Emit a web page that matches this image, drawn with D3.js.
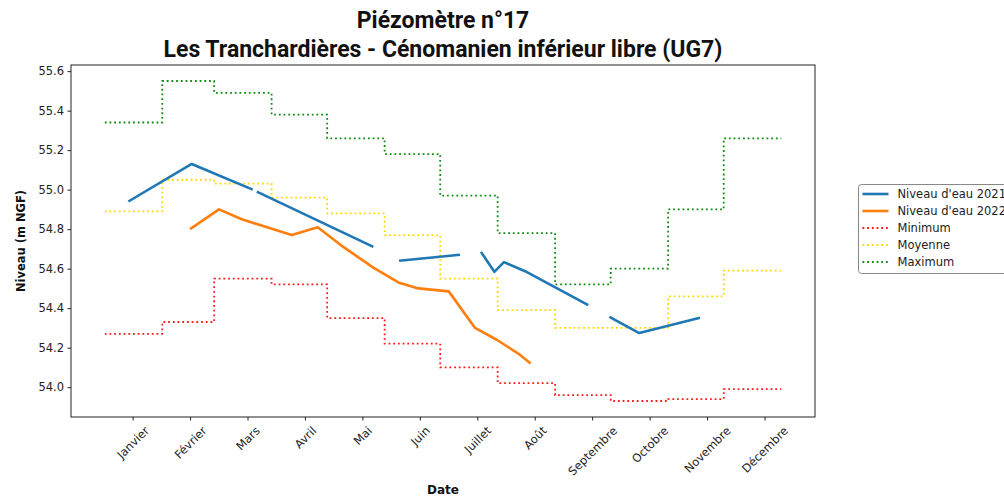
<!DOCTYPE html>
<html>
<head>
<meta charset="utf-8">
<script src="https://cdn.jsdelivr.net/npm/d3@7"></script>
<style>
  body { margin: 0; background: #fff; }
  svg { display: block; }
</style>
</head>
<body>
<div id="chart"></div>
<script>
// months (tick labels) and tick positions, in day of year
var months = ["Janvier", "Février", "Mars", "Avril", "Mai", "Juin", "Juillet",
    "Août", "Septembre", "Octobre", "Novembre", "Décembre"];
var tickDays = [15, 46, 77, 108, 139, 170, 201, 232, 263, 294, 325, 356];

// monthly statistics, one value per month (step from 1st of month)
var monthStarts = [0, 31, 59, 90, 120, 151, 181, 212, 243, 273, 304, 334];
var yearEnd = 365;
var minimum = [54.27, 54.33, 54.55, 54.52, 54.35, 54.22, 54.10, 54.02, 53.96, 53.93, 53.94, 53.99];
var moyenne = [54.89, 55.05, 55.03, 54.96, 54.88, 54.77, 54.55, 54.39, 54.30, 54.30, 54.46, 54.59];
var maximum = [55.34, 55.55, 55.49, 55.38, 55.26, 55.18, 54.97, 54.78, 54.52, 54.60, 54.90, 55.26];

// measured levels [day, level], null = missing measurement
var niveau2021 = [[12.7, 54.94], [46.9, 55.13], [79.8, 55.00], null,
    [82, 54.99], [144.9, 54.71], null,
    [158.8, 54.64], [191.7, 54.67], null,
    [203, 54.685], [210.2, 54.584], [215.4, 54.633], [226.8, 54.587], [260.9, 54.415], null,
    [272.3, 54.356], [288.4, 54.274], [321.2, 54.351]];
var niveau2022 = [[46, 54.80], [61.6, 54.90], [73.9, 54.85], [100.9, 54.77], [114.9, 54.81],
    [128.7, 54.71], [144.9, 54.605], [158.4, 54.53], [169.2, 54.50], [185.6, 54.485],
    [199.8, 54.30], [211.5, 54.24], [223.1, 54.17], [229.8, 54.12]];

var yTicks = [54.0, 54.2, 54.4, 54.6, 54.8, 55.0, 55.2, 55.4, 55.6];

var W = 1004, H = 499;
var margin = {top: 65, right: 189, bottom: 82, left: 71};

var svg = d3.select("#chart").append("svg")
    .attr("width", W)
    .attr("height", H);

svg.append("rect").attr("width", W).attr("height", H).attr("fill", "#fff");

// matplotlib style 5% padding around the data
function padded(lo, hi) {
    var p = (hi - lo) * 0.05;
    return [lo - p, hi + p];
}
var allVals = minimum.concat(moyenne, maximum,
    niveau2021.filter(Boolean).map(function(d) { return d[1]; }),
    niveau2022.map(function(d) { return d[1]; }));

var x = d3.scaleLinear()
    .domain(padded(0, yearEnd))
    .range([margin.left, W - margin.right]);
var y = d3.scaleLinear()
    .domain(padded(d3.min(allVals), d3.max(allVals)))
    .range([H - margin.bottom, margin.top]);

var cx = (x.range()[0] + x.range()[1]) / 2;

// titles
var title = svg.append("g")
    .attr("font-family", "Roboto, sans-serif")
    .attr("font-weight", "bold")
    .attr("font-size", "23px")
    .attr("text-anchor", "middle")
    .attr("fill", "#111");
title.append("text").attr("x", cx).attr("y", 28)
    .text("Piézomètre n°17");
title.append("text").attr("x", cx).attr("y", 56.5)
    .text("Les Tranchardières - Cénomanien inférieur libre (UG7)");

// y axis
var yAxis = svg.append("g")
    .attr("transform", "translate(" + margin.left + ",0)")
    .call(d3.axisLeft(y).tickValues(yTicks).tickFormat(d3.format(".1f"))
        .tickSize(3.5).tickPadding(3.5));

// x axis
var xAxis = svg.append("g")
    .attr("transform", "translate(0," + (H - margin.bottom) + ")")
    .call(d3.axisBottom(x).tickValues(tickDays)
        .tickFormat(function(d, i) { return months[i]; })
        .tickSize(3.5));

[xAxis, yAxis].forEach(function(a) {
    a.select(".domain").remove();
    a.selectAll("text")
        .attr("font-family", "'DejaVu Sans', sans-serif")
        .attr("font-size", "11.5px")
        .attr("fill", "#222");
    a.selectAll("line").attr("stroke", "#222");
});

// rotated month labels, centered under their tick
xAxis.selectAll(".tick text")
    .attr("text-anchor", "middle")
    .attr("dy", null)
    .attr("y", null)
    .each(function() {
        var w = this.getComputedTextLength();
        var h = 13;
        var cy = 7 + (w + h) * Math.SQRT1_2 / 2;
        d3.select(this)
            .attr("dominant-baseline", "central")
            .attr("transform", "translate(0," + cy + ") rotate(-45)");
    });

// clip for data
svg.append("clipPath").attr("id", "plot-clip")
    .append("rect")
    .attr("x", margin.left).attr("y", margin.top)
    .attr("width", W - margin.left - margin.right)
    .attr("height", H - margin.top - margin.bottom);

var plot = svg.append("g").attr("clip-path", "url(#plot-clip)");

// stepped statistics
var stepLine = d3.line()
    .curve(d3.curveStepAfter)
    .x(function(d) { return x(d[0]); })
    .y(function(d) { return y(d[1]); });

function stepData(vals) {
    var pts = monthStarts.map(function(m, i) { return [m, vals[i]]; });
    pts.push([yearEnd, vals[vals.length - 1]]);
    return pts;
}

var stats = [
    {name: "Minimum", vals: minimum, color: "#ff1a1a"},
    {name: "Moyenne", vals: moyenne, color: "#ffd700"},
    {name: "Maximum", vals: maximum, color: "#108a10"}
];

stats.forEach(function(s) {
    plot.append("path")
        .attr("d", stepLine(stepData(s.vals)))
        .attr("fill", "none")
        .attr("stroke", s.color)
        .attr("stroke-width", 1.8)
        .attr("stroke-dasharray", "1.8,2.9");
});

// measured levels
var levelLine = d3.line()
    .defined(function(d) { return d !== null; })
    .x(function(d) { return x(d[0]); })
    .y(function(d) { return y(d[1]); });

var levels = [
    {name: "Niveau d'eau 2021", data: niveau2021, color: "#1f77b4"},
    {name: "Niveau d'eau 2022", data: niveau2022, color: "#ff7f0e"}
];

levels.forEach(function(s) {
    plot.append("path")
        .attr("d", levelLine(s.data))
        .attr("fill", "none")
        .attr("stroke", s.color)
        .attr("stroke-width", 2.6)
        .attr("stroke-linejoin", "round");
});

// frame
svg.append("rect")
    .attr("x", margin.left).attr("y", margin.top)
    .attr("width", W - margin.left - margin.right)
    .attr("height", H - margin.top - margin.bottom)
    .attr("fill", "none")
    .attr("stroke", "#222")
    .attr("stroke-width", 1);

// axis labels
svg.append("text")
    .attr("transform", "translate(21," + ((margin.top + H - margin.bottom) / 2) + ") rotate(-90)")
    .attr("text-anchor", "middle")
    .attr("dominant-baseline", "central")
    .attr("font-family", "'DejaVu Sans', sans-serif")
    .attr("font-weight", "bold")
    .attr("font-size", "11.5px")
    .attr("fill", "#111")
    .text("Niveau (m NGF)");

svg.append("text")
    .attr("x", cx)
    .attr("y", 494)
    .attr("text-anchor", "middle")
    .attr("font-family", "'DejaVu Sans', sans-serif")
    .attr("font-weight", "bold")
    .attr("font-size", "12px")
    .attr("fill", "#111")
    .text("Date");

// legend
var legendItems = levels.map(function(s) { return {name: s.name, color: s.color, dotted: false}; })
    .concat(stats.map(function(s) { return {name: s.name, color: s.color, dotted: true}; }));

var legend = svg.append("g").attr("transform", "translate(858.5,184.5)");
legend.append("rect")
    .attr("width", 180).attr("height", 89)
    .attr("rx", 3)
    .attr("fill", "#fff")
    .attr("stroke", "#888")
    .attr("stroke-width", 1);

legendItems.forEach(function(d, i) {
    var ly = 9.5 + i * 17;
    legend.append("line")
        .attr("x1", 4).attr("x2", 30)
        .attr("y1", ly).attr("y2", ly)
        .attr("stroke", d.color)
        .attr("stroke-width", d.dotted ? 1.8 : 2.6)
        .attr("stroke-dasharray", d.dotted ? "1.8,2.9" : null);
    legend.append("text")
        .attr("x", 39).attr("y", ly)
        .attr("dominant-baseline", "central")
        .attr("font-family", "'DejaVu Sans', sans-serif")
        .attr("font-size", "11.5px")
        .attr("fill", "#222")
        .text(d.name);
});
</script>
</body>
</html>
